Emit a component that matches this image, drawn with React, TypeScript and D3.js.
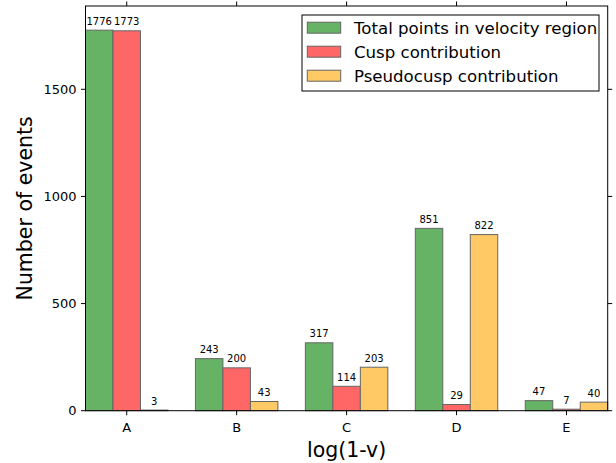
import React from "react";
import * as d3 from "d3";

const categories = ["A", "B", "C", "D", "E"];
const seriesNames = ["Total points in velocity region", "Cusp contribution", "Pseudocusp contribution"];
const totalPoints = [1776, 243, 317, 851, 47];
const cuspContribution = [1773, 200, 114, 29, 7];
const pseudocuspContribution = [3, 43, 203, 822, 40];
const yTicks = [0, 500, 1000, 1500];
const seriesColors = ["rgb(102,179,102)", "rgb(255,102,102)", "rgb(255,201,102)"];

const W = 616;
const H = 463;
const left = 85.5;
const right = 607.7;
const top = 6;
const bottom = 410.7;
const font = "'DejaVu Sans', sans-serif";

export default function App() {
  const series = [totalPoints, cuspContribution, pseudocuspContribution];
  const x = d3.scaleLinear().domain([0, 4.75]).range([left, right]);
  const y = d3.scaleLinear().domain([0, 1888.8]).range([bottom, top]);
  const barW = 0.25;
  const tickLen = 4.5;

  return (
    <svg width={W} height={H} style={{ position: "absolute", left: 0, top: 0, background: "#fff" }} fontFamily={font}>
      <rect x={0} y={0} width={W} height={H} fill="#fff" />
      {series.map((vals, s) =>
        vals.map((v, i) => {
          const x0 = x(i + s * barW);
          const x1 = x(i + (s + 1) * barW);
          return (
            <g key={`b${s}-${i}`}>
              <rect x={x0} y={y(v)} width={x1 - x0} height={bottom - y(v)} fill={seriesColors[s]} stroke="#666" strokeWidth={1} />
              <text x={(x0 + x1) / 2} y={y(v) - 5.5} textAnchor="middle" fontSize={10} fill="#000">
                {v}
              </text>
            </g>
          );
        })
      )}
      {/* frame */}
      <rect x={left} y={top} width={right - left} height={bottom - top} fill="none" stroke="#000" strokeWidth={1} />
      {/* y ticks */}
      {yTicks.map((t) => (
        <g key={`y${t}`}>
          <line x1={left - tickLen} x2={left} y1={y(t)} y2={y(t)} stroke="#000" />
          <line x1={right} x2={right + tickLen} y1={y(t)} y2={y(t)} stroke="#000" />
          <text x={left - 9} y={y(t)} textAnchor="end" dominantBaseline="central" fontSize={13}>
            {t}
          </text>
        </g>
      ))}
      {/* x ticks */}
      {categories.map((c, i) => {
        const cx = x(i + 1.5 * barW);
        return (
          <g key={`x${c}`}>
            <line x1={cx} x2={cx} y1={bottom} y2={bottom + tickLen} stroke="#000" />
            <line x1={cx} x2={cx} y1={top - tickLen} y2={top} stroke="#000" />
            <text x={cx} y={432} textAnchor="middle" fontSize={13}>
              {c}
            </text>
          </g>
        );
      })}
      {/* axis labels */}
      <text x={(left + right) / 2} y={457} textAnchor="middle" fontSize={20.5}>
        log(1-v)
      </text>
      <text transform={`translate(32,${(top + bottom) / 2}) rotate(-90)`} textAnchor="middle" fontSize={20.5}>
        Number of events
      </text>
      {/* legend */}
      <rect x={302} y={15} width={297} height={76} fill="#fff" stroke="#000" strokeWidth={1} />
      {seriesNames.map((n, k) => {
        const cy = 27.7 + k * 24;
        return (
          <g key={`l${k}`}>
            <rect x={307.3} y={cy - 5.5} width={33.4} height={11} fill={seriesColors[k]} stroke="#666" strokeWidth={1} />
            <text x={354} y={cy + 5.8} fontSize={16.6}>
              {n}
            </text>
          </g>
        );
      })}
    </svg>
  );
}
